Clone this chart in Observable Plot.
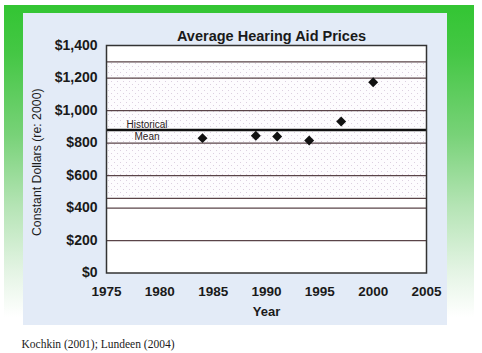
<!DOCTYPE html>
<html>
<head>
<meta charset="utf-8">
<script src="https://cdn.jsdelivr.net/npm/d3@7"></script>
<script src="https://cdn.jsdelivr.net/npm/@observablehq/plot@0.6"></script>
<style>
  html, body { margin: 0; padding: 0; background: #fff; }
  #wrap { position: relative; width: 482px; height: 353px; overflow: hidden; }
  #green { position: absolute; left: 4px; top: 5px; width: 470px; height: 325px;
    background: linear-gradient(to bottom, #33c533 0%, #45c745 15%, #78d278 40%, #b5e4b5 62%, #e4f4e4 82%, #ffffff 96%); }
  #panel { position: absolute; left: 23px; top: 13px; width: 424px; height: 312px; background: #e3ebf7; }
  #chart { position: absolute; left: 0; top: 0; }
</style>
</head>
<body>
<div id="wrap">
  <div id="green"></div>
  <div id="panel"></div>
  <div id="chart"></div>
</div>
<script>
const years = [1984, 1989, 1991, 1994, 1997, 2000];
const prices = [830, 844, 840, 815, 932, 1174];
const xTicks = [1975, 1980, 1985, 1990, 1995, 2000, 2005];
const yTicks = [0, 200, 400, 600, 800, 1000, 1200, 1400];
const gridLines = [200, 400, 460, 600, 800, 1000, 1200, 1300];
const shadedBand = [460, 1300];
const historicalMean = 880;
const meanLabels = ["Historical", "Mean"];
const titleText = "Average Hearing Aid Prices";
const yLabel = "Constant Dollars (re: 2000)";
const xLabel = "Year";
const captionText = "Kochkin (2001); Lundeen (2004)";

const xDomain = [xTicks[0], xTicks[xTicks.length - 1]];
const yDomain = [yTicks[0], yTicks[yTicks.length - 1]];
const points = years.map((y, i) => ({year: y, price: prices[i]}));
const band = [{y1: shadedBand[0], y2: shadedBand[1]}];

const chart = Plot.plot({
  width: 482,
  height: 353,
  marginLeft: 106,
  marginRight: 56,
  marginTop: 45,
  marginBottom: 80.5,
  style: {background: "transparent", fontFamily: "'Liberation Sans', Arial, sans-serif", color: "#1a1a1a"},
  x: {domain: xDomain},
  y: {domain: yDomain},
  marks: [
    Plot.frame({fill: "white"}),
    Plot.rect(band, {x1: () => xDomain[0], x2: () => xDomain[1], y1: "y1", y2: "y2", fill: "url(#dots)"}),
    Plot.ruleY(gridLines, {stroke: "#5a4448", strokeWidth: 1.25}),
    Plot.ruleY([historicalMean], {stroke: "#111", strokeWidth: 2.6}),
    Plot.text([meanLabels[0]], {x: () => xDomain[0], y: () => historicalMean, dx: 40.5, dy: -5, fontSize: 10, fill: "#2a2222"}),
    Plot.text([meanLabels[1]], {x: () => xDomain[0], y: () => historicalMean, dx: 40.5, dy: 6.5, fontSize: 10, fill: "#2a2222"}),
    Plot.dot(points, {x: "year", y: "price", symbol: "diamond2", r: 4.5, fill: "#111", stroke: "none"}),
    Plot.frame({stroke: "#333", strokeWidth: 1.5}),
    Plot.axisY(yTicks, {tickSize: 0, tickPadding: 9, tickFormat: d3.format("$,"), fontSize: 14, fontWeight: "bold", label: null}),
    Plot.axisX(xTicks, {tickSize: 0, tickPadding: 13, tickFormat: d => String(d), fontSize: 13.5, fontWeight: "bold", label: null}),
    Plot.text([xLabel], {frameAnchor: "bottom", dy: 42.5, fontSize: 13, fontWeight: "bold"}),
    Plot.text([yLabel], {frameAnchor: "left", textAnchor: "middle", dx: -69, dy: 3, rotate: -90, fontSize: 12.3}),
    Plot.text([titleText], {frameAnchor: "top", dx: 5, dy: -15, fontSize: 14.5, fontWeight: "bold"}),
    Plot.text([captionText], {frameAnchor: "bottom-left", dx: -85, dy: 74.5, textAnchor: "start", fontSize: 11.5, fontFamily: "'Liberation Serif', serif"})
  ]
});

const ns = "http://www.w3.org/2000/svg";
const defs = document.createElementNS(ns, "defs");
const pat = document.createElementNS(ns, "pattern");
pat.setAttribute("id", "dots");
pat.setAttribute("width", "6");
pat.setAttribute("height", "6");
pat.setAttribute("patternUnits", "userSpaceOnUse");
const bg = document.createElementNS(ns, "rect");
bg.setAttribute("width", "6"); bg.setAttribute("height", "6"); bg.setAttribute("fill", "#fdfcfe");
pat.appendChild(bg);
[[0, 0], [3, 3]].forEach(([x, y]) => {
  const r = document.createElementNS(ns, "rect");
  r.setAttribute("x", x); r.setAttribute("y", y);
  r.setAttribute("width", "1"); r.setAttribute("height", "1");
  r.setAttribute("fill", "#dcd0e0");
  pat.appendChild(r);
});
defs.appendChild(pat);
chart.insertBefore(defs, chart.firstChild);
document.getElementById("chart").appendChild(chart);
</script>
</body>
</html>
